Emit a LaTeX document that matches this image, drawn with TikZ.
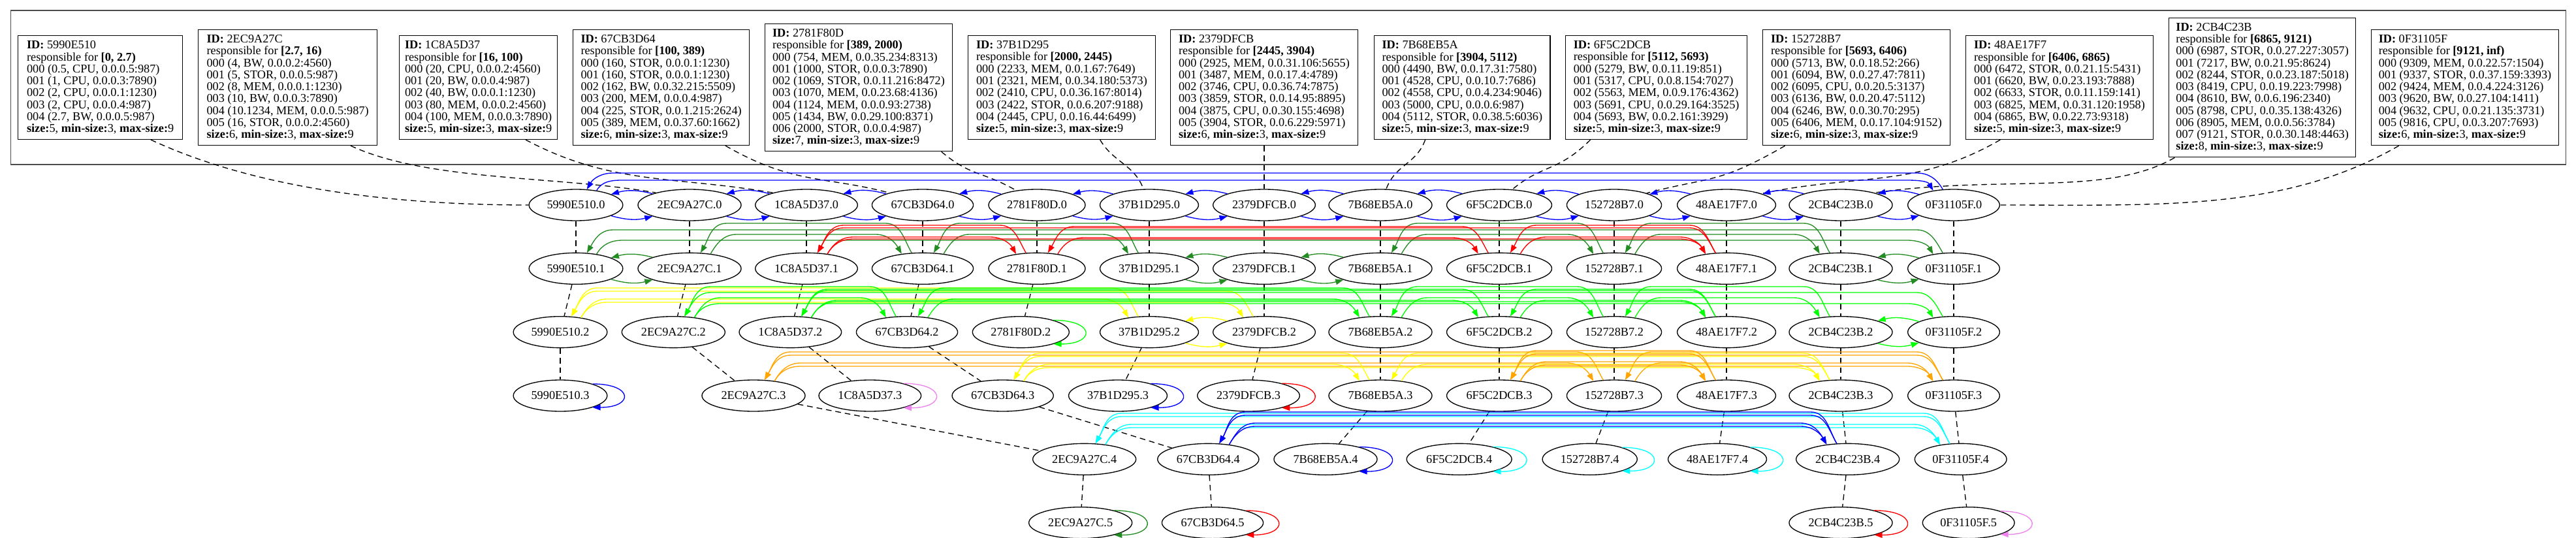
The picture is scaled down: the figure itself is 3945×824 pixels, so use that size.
\documentclass[tikz,border=0pt]{standalone}
\usepackage{fontspec}
\setmainfont{Liberation Serif}
\usepackage{tikz}
\usetikzlibrary{positioning,arrows.meta,shapes.geometric,fit}
\definecolor{lnblue}{HTML}{0000FF}
\definecolor{lnforest}{HTML}{228B22}
\definecolor{lnred}{HTML}{FF0000}
\definecolor{lnyellow}{HTML}{FFFF00}
\definecolor{lnlime}{HTML}{00FF00}
\definecolor{lnorange}{HTML}{FFA500}
\definecolor{lnviolet}{HTML}{EE82EE}
\definecolor{lncyan}{HTML}{00FFFF}
\tikzset{
  card/.style={rectangle,draw=black,line width=1pt,align=left,inner xsep=2pt,inner ysep=6pt,
    minimum width=#1,anchor=west},
  clu/.style={rectangle,draw=black!70,line width=1pt,inner sep=8pt},
  peer/.style={ellipse,draw=black,line width=1pt,fill=white,minimum height=36pt,
    inner xsep=4.8pt,inner ysep=2pt},
  tie/.style={draw=black,line width=1pt,dash pattern=on 6.5pt off 4.5pt},
  ar/.style={-{Triangle[length=9pt,width=6.5pt]},line width=1pt},
}
\newcommand\hdr[2]{\textbf{ID:} #1\\responsible for \textbf{#2}}
\newcommand\sizes[1]{\textbf{size:}#1, \textbf{min-size:}3, \textbf{max-size:}9}
\newcommand\pair[3]{\draw[ar,#1] (#2.-17) to[bend right=15] (#3.-163);
  \draw[ar,#1] (#3.163) to[bend right=15] (#2.17);}
\newcommand\fwd[4]{\draw[ar,#1] (#2.35) to[out=60,in=180] ([xshift=30pt]#2.35 |- 0,-#4)
  -- ([xshift=-30pt]#3.145 |- 0,-#4) to[out=0,in=120] (#3.145);}
\newcommand\bwd[4]{\draw[ar,#1] (#2.125) to[out=120,in=0] ([xshift=-30pt]#2.125 |- 0,-#4)
  -- ([xshift=30pt]#3.55 |- 0,-#4) to[out=180,in=60] (#3.55);}
\newcommand\selfloop[2]{\draw[ar,#1] (#2.20) to[out=0,in=0,looseness=4.5] (#2.-20);}

\begin{document}
\begin{tikzpicture}[x=0.75pt,y=0.75pt,node distance=18pt,font=\fontsize{13.7pt}{13.7pt}\selectfont]
  \useasboundingbox (0,0) rectangle (3945,-824);

  \node[card=189pt] (boxA) at (27,-134) {\hdr{5990E510}{[0, 2.7)}\\000 (0.5, CPU, 0.0.0.5:987)\\001 (1, CPU, 0.0.0.3:7890)\\002 (2, CPU, 0.0.0.1:1230)\\003 (2, CPU, 0.0.0.4:987)\\004 (2.7, BW, 0.0.0.5:987)\\\sizes{5}};
  \node[card=205.5pt] (boxB) at (303,-134) {\hdr{2EC9A27C}{[2.7, 16)}\\000 (4, BW, 0.0.0.2:4560)\\001 (5, STOR, 0.0.0.5:987)\\002 (8, MEM, 0.0.0.1:1230)\\003 (10, BW, 0.0.0.3:7890)\\004 (10.1234, MEM, 0.0.0.5:987)\\005 (16, STOR, 0.0.0.2:4560)\\\sizes{6}};
  \node[card=181.5pt] (boxC) at (611,-134) {\hdr{1C8A5D37}{[16, 100)}\\000 (20, CPU, 0.0.0.2:4560)\\001 (20, BW, 0.0.0.4:987)\\002 (40, BW, 0.0.0.1:1230)\\003 (80, MEM, 0.0.0.2:4560)\\004 (100, MEM, 0.0.0.3:7890)\\\sizes{5}};
  \node[card=202.5pt] (boxD) at (877,-134) {\hdr{67CB3D64}{[100, 389)}\\000 (160, STOR, 0.0.0.1:1230)\\001 (160, STOR, 0.0.0.1:1230)\\002 (162, BW, 0.0.32.215:5509)\\003 (200, MEM, 0.0.0.4:987)\\004 (225, STOR, 0.0.1.215:2624)\\005 (389, MEM, 0.0.37.60:1662)\\\sizes{6}};
  \node[card=215pt] (boxE) at (1171,-134) {\hdr{2781F80D}{[389, 2000)}\\000 (754, MEM, 0.0.35.234:8313)\\001 (1000, STOR, 0.0.0.3:7890)\\002 (1069, STOR, 0.0.11.216:8472)\\003 (1070, MEM, 0.0.23.68:4136)\\004 (1124, MEM, 0.0.0.93:2738)\\005 (1434, BW, 0.0.29.100:8371)\\006 (2000, STOR, 0.0.0.4:987)\\\sizes{7}};
  \node[card=215pt] (boxF) at (1482,-134) {\hdr{37B1D295}{[2000, 2445)}\\000 (2233, MEM, 0.0.1.67:7649)\\001 (2321, MEM, 0.0.34.180:5373)\\002 (2410, CPU, 0.0.36.167:8014)\\003 (2422, STOR, 0.0.6.207:9188)\\004 (2445, CPU, 0.0.16.44:6499)\\\sizes{5}};
  \node[card=215pt] (boxG) at (1792,-134) {\hdr{2379DFCB}{[2445, 3904)}\\000 (2925, MEM, 0.0.31.106:5655)\\001 (3487, MEM, 0.0.17.4:4789)\\002 (3746, CPU, 0.0.36.74:7875)\\003 (3859, STOR, 0.0.14.95:8895)\\004 (3875, CPU, 0.0.30.155:4698)\\005 (3904, STOR, 0.0.6.229:5971)\\\sizes{6}};
  \node[card=202pt] (boxH) at (2104,-134) {\hdr{7B68EB5A}{[3904, 5112)}\\000 (4490, BW, 0.0.17.31:7580)\\001 (4528, CPU, 0.0.10.7:7686)\\002 (4558, CPU, 0.0.4.234:9046)\\003 (5000, CPU, 0.0.0.6:987)\\004 (5112, STOR, 0.0.38.5:6036)\\\sizes{5}};
  \node[card=208.5pt] (boxI) at (2397,-134) {\hdr{6F5C2DCB}{[5112, 5693)}\\000 (5279, BW, 0.0.11.19:851)\\001 (5317, CPU, 0.0.8.154:7027)\\002 (5563, MEM, 0.0.9.176:4362)\\003 (5691, CPU, 0.0.29.164:3525)\\004 (5693, BW, 0.0.2.161:3929)\\\sizes{5}};
  \node[card=215pt] (boxJ) at (2699,-134) {\hdr{152728B7}{[5693, 6406)}\\000 (5713, BW, 0.0.18.52:266)\\001 (6094, BW, 0.0.27.47:7811)\\002 (6095, CPU, 0.0.20.5:3137)\\003 (6136, BW, 0.0.20.47:5112)\\004 (6246, BW, 0.0.30.70:295)\\005 (6406, MEM, 0.0.17.104:9152)\\\sizes{6}};
  \node[card=215pt] (boxK) at (3010,-134) {\hdr{48AE17F7}{[6406, 6865)}\\000 (6472, STOR, 0.0.21.15:5431)\\001 (6620, BW, 0.0.23.193:7888)\\002 (6633, STOR, 0.0.11.159:141)\\003 (6825, MEM, 0.0.31.120:1958)\\004 (6865, BW, 0.0.22.73:9318)\\\sizes{5}};
  \node[card=214.5pt] (boxL) at (3321,-134) {\hdr{2CB4C23B}{[6865, 9121)}\\000 (6987, STOR, 0.0.27.227:3057)\\001 (7217, BW, 0.0.21.95:8624)\\002 (8244, STOR, 0.0.23.187:5018)\\003 (8419, CPU, 0.0.19.223:7998)\\004 (8610, BW, 0.0.6.196:2340)\\005 (8798, CPU, 0.0.35.138:4326)\\006 (8905, MEM, 0.0.0.56:3784)\\007 (9121, STOR, 0.0.30.148:4463)\\\sizes{8}};
  \node[card=215pt] (boxM) at (3631,-134) {\hdr{0F31105F}{[9121, inf)}\\000 (9309, MEM, 0.0.22.57:1504)\\001 (9337, STOR, 0.0.37.159:3393)\\002 (9424, MEM, 0.0.4.224:3126)\\003 (9620, BW, 0.0.27.104:1411)\\004 (9632, CPU, 0.0.21.135:3731)\\005 (9816, CPU, 0.0.3.207:7693)\\\sizes{6}};
  \node[clu,fit=(boxA)(boxL)(boxM)] (frame) {};

  \node[peer] (A0) at (882,-314) {5990E510.0};
  \node[peer] (B0) at (1056,-314) {2EC9A27C.0};
  \node[peer] (C0) at (1235,-314) {1C8A5D37.0};
  \node[peer] (D0) at (1413,-314) {67CB3D64.0};
  \node[peer] (E0) at (1588,-314) {2781F80D.0};
  \node[peer] (F0) at (1760,-314) {37B1D295.0};
  \node[peer] (G0) at (1936,-314) {2379DFCB.0};
  \node[peer] (H0) at (2114,-314) {7B68EB5A.0};
  \node[peer] (I0) at (2296,-314) {6F5C2DCB.0};
  \node[peer] (J0) at (2472,-314) {152728B7.0};
  \node[peer] (K0) at (2644,-314) {48AE17F7.0};
  \node[peer] (L0) at (2819,-314) {2CB4C23B.0};
  \node[peer] (M0) at (2992,-314) {0F31105F.0};

  \node[peer,below=36pt of A0] (A1) {5990E510.1};
  \node[peer,below=36pt of B0] (B1) {2EC9A27C.1};
  \node[peer,below=36pt of C0] (C1) {1C8A5D37.1};
  \node[peer,below=36pt of D0] (D1) {67CB3D64.1};
  \node[peer,below=36pt of E0] (E1) {2781F80D.1};
  \node[peer,below=36pt of F0] (F1) {37B1D295.1};
  \node[peer,below=36pt of G0] (G1) {2379DFCB.1};
  \node[peer,below=36pt of H0] (H1) {7B68EB5A.1};
  \node[peer,below=36pt of I0] (I1) {6F5C2DCB.1};
  \node[peer,below=36pt of J0] (J1) {152728B7.1};
  \node[peer,below=36pt of K0] (K1) {48AE17F7.1};
  \node[peer,below=36pt of L0] (L1) {2CB4C23B.1};
  \node[peer,below=36pt of M0] (M1) {0F31105F.1};

  \node[peer,below=36pt of A1,xshift=-18pt] (A2) {5990E510.2};
  \node[peer,below=36pt of B1,xshift=-18.5pt] (B2) {2EC9A27C.2};
  \node[peer,below=36pt of C1,xshift=-18.5pt] (C2) {1C8A5D37.2};
  \node[peer,below=36pt of D1,xshift=-18pt] (D2) {67CB3D64.2};
  \node[peer,below=36pt of E1,xshift=-18.5pt] (E2) {2781F80D.2};
  \node[peer,below=36pt of F1] (F2) {37B1D295.2};
  \node[peer,below=36pt of G1] (G2) {2379DFCB.2};
  \node[peer,below=36pt of H1] (H2) {7B68EB5A.2};
  \node[peer,below=36pt of I1] (I2) {6F5C2DCB.2};
  \node[peer,below=36pt of J1] (J2) {152728B7.2};
  \node[peer,below=36pt of K1] (K2) {48AE17F7.2};
  \node[peer,below=36pt of L1] (L2) {2CB4C23B.2};
  \node[peer,below=36pt of M1] (M2) {0F31105F.2};

  \node[peer,below=36pt of A2] (A3) {5990E510.3};
  \node[peer,below=36pt of B2,xshift=92pt] (B3) {2EC9A27C.3};
  \node[peer,below=36pt of C2,xshift=91.5pt] (C3) {1C8A5D37.3};
  \node[peer,below=36pt of D2,xshift=110pt] (D3) {67CB3D64.3};
  \node[peer,below=36pt of F2,xshift=-36pt] (F3) {37B1D295.3};
  \node[peer,below=36pt of G2,xshift=-18pt] (G3) {2379DFCB.3};
  \node[peer,below=36pt of H2] (H3) {7B68EB5A.3};
  \node[peer,below=36pt of I2] (I3) {6F5C2DCB.3};
  \node[peer,below=36pt of J2] (J3) {152728B7.3};
  \node[peer,below=36pt of K2] (K3) {48AE17F7.3};
  \node[peer,below=36pt of L2] (L3) {2CB4C23B.3};
  \node[peer,below=36pt of M2] (M3) {0F31105F.3};

  \node[peer,below=36pt of B3,xshift=380pt] (B4) {2EC9A27C.4};
  \node[peer,below=36pt of D3,xshift=236pt] (D4) {67CB3D64.4};
  \node[peer,below=36pt of H3,xshift=-63pt] (H4) {7B68EB5A.4};
  \node[peer,below=36pt of I3,xshift=-46pt] (I4) {6F5C2DCB.4};
  \node[peer,below=36pt of J3,xshift=-28pt] (J4) {152728B7.4};
  \node[peer,below=36pt of K3,xshift=-10.5pt] (K4) {48AE17F7.4};
  \node[peer,below=36pt of L3,xshift=8pt] (L4) {2CB4C23B.4};
  \node[peer,below=36pt of M3,xshift=8pt] (M4) {0F31105F.4};

  \node[peer,below=36pt of B4,xshift=-4.5pt] (B5) {2EC9A27C.5};
  \node[peer,below=36pt of D4,xshift=5pt] (D5) {67CB3D64.5};
  \node[peer,below=36pt of L4,xshift=-8pt] (L5) {2CB4C23B.5};
  \node[peer,below=36pt of M4,xshift=9pt] (M5) {0F31105F.5};

  \draw[tie] ([xshift=-37pt]boxA.south east) .. controls +(-25:150) and +(180:250) .. (A0.west);
  \draw[tie] ([xshift=-31pt]boxB.south east) .. controls +(-25:130) and +(170:150) .. (B0.160);
  \draw[tie] ([xshift=-37pt]boxC.south east) .. controls +(-28:150) and +(170:150) .. (C0.160);
  \draw[tie] ([xshift=-28pt]boxD.south east) .. controls +(-30:120) and +(165:100) .. (D0.160);
  \draw[tie] ([xshift=-13pt]boxE.south east) .. controls +(-40:60) and +(150:60) .. (E0.145);
  \draw[tie] ([xshift=-64pt]boxF.south east) .. controls +(-60:40) and +(110:40) .. (F0.110);
  \draw[tie] (boxG) -- (G0);
  \draw[tie] ([xshift=59pt]boxH.south west) .. controls +(-110:40) and +(70:40) .. (H0.70);
  \draw[tie] ([xshift=29pt]boxI.south west) .. controls +(-135:70) and +(40:60) .. (I0.50);
  \draw[tie] ([xshift=26pt]boxJ.south west) .. controls +(-150:120) and +(15:100) .. (J0.20);
  \draw[tie] ([xshift=40pt]boxK.south west) .. controls +(-150:150) and +(12:150) .. (K0.18);
  \draw[tie] ([xshift=7pt]boxL.south west) .. controls +(-150:120) and +(8:200) .. (L0.20);
  \draw[tie] ([xshift=32pt]boxM.south west) .. controls +(-150:200) and +(0:250) .. (M0.east);
  \foreach \x/\n in {A/3,B/5,C/3,D/5,E/2,F/3,G/3,H/4,I/4,J/4,K/4,L/5,M/5}
    \foreach \i [remember=\i as \j (initially 0)] in {1,...,\n}
      \draw[tie] (\x\j) -- (\x\i);

  \foreach \a/\b in {A0/B0,B0/C0,C0/D0,D0/E0,E0/F0,F0/G0,G0/H0,H0/I0,I0/J0,J0/K0,K0/L0,L0/M0} {\pair{lnblue}{\a}{\b}}
  \fwd{lnblue}{A0}{M0}{276} \bwd{lnblue}{M0}{A0}{265}

  \foreach \a/\b in {A1/B1,F1/G1,G1/H1,L1/M1} {\pair{lnforest}{\a}{\b}}
  \foreach \a/\b in {B1/D1,D1/F1,H1/J1,J1/L1} {\fwd{lnforest}{\a}{\b}{359}\bwd{lnforest}{\b}{\a}{342}}
  \fwd{lnforest}{A1}{M1}{368} \bwd{lnforest}{M1}{A1}{352}
  \foreach \a/\b in {C1/E1,I1/K1} {\fwd{lnred}{\a}{\b}{363}\bwd{lnred}{\b}{\a}{345}}
  \fwd{lnred}{E1}{I1}{364} \bwd{lnred}{I1}{E1}{347}
  \fwd{lnred}{C1}{K1}{366} \bwd{lnred}{K1}{C1}{349}

  \pair{lnyellow}{F2}{G2}
  \fwd{lnyellow}{A2}{F2}{458} \bwd{lnyellow}{F2}{A2}{441}
  \fwd{lnyellow}{A2}{G2}{463} \bwd{lnyellow}{G2}{A2}{446}
  \pair{lnlime}{L2}{M2}
  \foreach \a/\b in {B2/D2,H2/J2,J2/L2} {\fwd{lnlime}{\a}{\b}{456}\bwd{lnlime}{\b}{\a}{439}}
  \fwd{lnlime}{D2}{H2}{458} \bwd{lnlime}{H2}{D2}{441}
  \fwd{lnlime}{B2}{M2}{465} \bwd{lnlime}{M2}{B2}{448}
  \foreach \a/\b in {C2/I2,I2/K2} {\fwd{lnlime}{\a}{\b}{460}\bwd{lnlime}{\b}{\a}{443}}
  \fwd{lnlime}{C2}{K2}{462} \bwd{lnlime}{K2}{C2}{445}
  \selfloop{lnlime}{E2}

  \foreach \a/\b in {B3/J3,J3/M3} {\fwd{lnorange}{\a}{\b}{556}\bwd{lnorange}{\b}{\a}{539}}
  \fwd{lnorange}{B3}{M3}{561} \bwd{lnorange}{M3}{B3}{544}
  \foreach \a/\b in {D3/H3,H3/L3} {\fwd{lnyellow}{\a}{\b}{558}\bwd{lnyellow}{\b}{\a}{541}}
  \fwd{lnyellow}{D3}{L3}{563} \bwd{lnyellow}{L3}{D3}{546}
  \fwd{lnorange}{I3}{K3}{554} \fwd{lnorange}{I3}{K3}{559}
  \bwd{lnorange}{K3}{I3}{537} \bwd{lnorange}{K3}{I3}{542}
  \selfloop{lnblue}{A3} \selfloop{lnviolet}{C3} \selfloop{lnblue}{F3} \selfloop{lnred}{G3}

  \fwd{lncyan}{B4}{M4}{650} \fwd{lncyan}{B4}{M4}{655}
  \bwd{lncyan}{M4}{B4}{633} \bwd{lncyan}{M4}{B4}{638}
  \fwd{lnblue}{D4}{L4}{648} \fwd{lnblue}{D4}{L4}{653}
  \bwd{lnblue}{L4}{D4}{631} \bwd{lnblue}{L4}{D4}{636}
  \selfloop{lnblue}{H4} \selfloop{lncyan}{I4} \selfloop{lncyan}{J4} \selfloop{lncyan}{K4}

  \selfloop{lnforest}{B5} \selfloop{lnred}{D5} \selfloop{lnred}{L5} \selfloop{lnviolet}{M5}
\end{tikzpicture}
\end{document}
